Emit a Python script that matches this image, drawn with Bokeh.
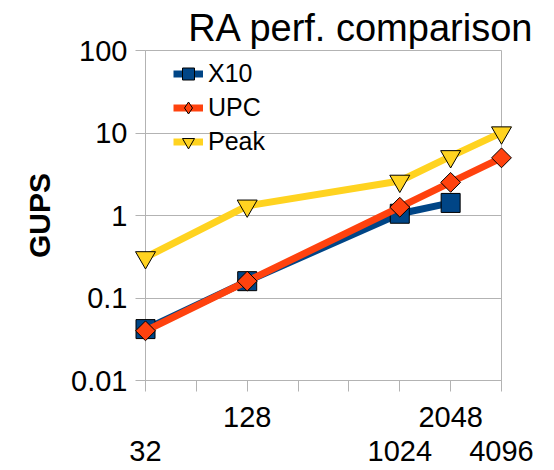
from bokeh.plotting import figure
from bokeh.models import FixedTicker, NumeralTickFormatter, Legend, LegendItem
from bokeh.embed import file_html
from bokeh.resources import INLINE
import numpy as np

# ---- data ----
sizes = [32, 128, 1024, 2048, 4096]
x10_sizes = [32, 128, 1024, 2048]
x10 = [0.042, 0.16, 1.05, 1.42]
upc = [0.040, 0.16, 1.26, 2.52, 5.0]
peak = [0.31, 1.31, 2.62, 5.2, 10.1]

x_ticks = [32, 64, 128, 256, 512, 1024, 2048, 4096]
x_tick_labels = ["\n32", "", "128", "", "", "\n1024", "2048", "\n4096"]
y_ticks = [0.01, 0.1, 1, 10, 100]

title_text = "RA perf. comparison"
y_label = "GUPS"

C_X10 = "#004586"
C_UPC = "#ff420e"
C_PEAK = "#ffd320"
GRID = "#b3b3b3"
FONT = "Liberation Sans"

p = figure(width=554, height=470, x_axis_type="log", y_axis_type="log",
           x_range=(32, 4096), y_range=(0.01, 100),
           output_backend="svg", toolbar_location=None,
           min_border_left=145, min_border_right=53,
           min_border_top=50, min_border_bottom=86)

p.title.text = title_text
p.title.text_font = FONT
p.title.text_font_size = "38px"
p.title.text_font_style = "normal"
p.title.align = "right"
p.title.offset = -33
p.title.standoff = 4
p.title.text_color = "black"

p.outline_line_color = GRID
p.outline_line_width = 1
p.xgrid.grid_line_color = None
p.ygrid.grid_line_color = GRID
p.ygrid.grid_line_width = 1

# x axis
xa = p.xaxis[0]
xa.ticker = FixedTicker(ticks=x_ticks)
xa.major_label_overrides = {t: l for t, l in zip(x_ticks, x_tick_labels)}
xa.axis_line_color = GRID
xa.major_tick_line_color = GRID
xa.major_tick_out = 11
xa.major_tick_in = 0
xa.minor_tick_line_color = None
xa.major_label_standoff = 9
xa.major_label_text_font = FONT
xa.major_label_text_font_size = "29px"
xa.major_label_text_line_height = 1.08
xa.major_label_text_color = "black"

# y axis
ya = p.yaxis[0]
ya.ticker = FixedTicker(ticks=y_ticks)
ya.formatter = NumeralTickFormatter(format="0.[00]")
ya.axis_line_color = GRID
ya.major_tick_line_color = GRID
ya.major_tick_out = 10
ya.major_tick_in = 0
ya.minor_tick_line_color = None
ya.major_label_standoff = 8
ya.major_label_text_font = FONT
ya.major_label_text_font_size = "29px"
ya.major_label_text_color = "black"
ya.axis_label = y_label
ya.axis_label_text_font = FONT
ya.axis_label_text_font_size = "30px"
ya.axis_label_text_font_style = "bold"
ya.axis_label_text_color = "black"
ya.axis_label_standoff = 12

# series (overlay level so edge markers are not clipped by the frame)
r1 = p.line(x10_sizes, x10, line_width=7, line_color=C_X10, level="overlay")
s1 = p.scatter(x10_sizes, x10, marker="square", size=19, fill_color=C_X10,
               line_color="black", line_width=1, level="overlay")
r2 = p.line(sizes, upc, line_width=7, line_color=C_UPC, level="overlay")
s2 = p.scatter(sizes, upc, marker="square", angle=np.pi / 4, size=14,
               fill_color=C_UPC, line_color="black", line_width=1, level="overlay")
r3 = p.line(sizes, peak, line_width=7, line_color=C_PEAK, level="overlay")
s3 = p.scatter(sizes, peak, marker="inverted_triangle", size=20, fill_color=C_PEAK,
               line_color="black", line_width=1, level="overlay")
# zero-size diamond marker: only used to draw a diamond in the legend
leg_upc = p.scatter(sizes, upc, marker="diamond", size=0, fill_color=C_UPC,
                    line_color="black", line_width=1)

legend = Legend(items=[LegendItem(label="X10", renderers=[r1, s1]),
                       LegendItem(label="UPC", renderers=[r2, leg_upc]),
                       LegendItem(label="Peak", renderers=[r3, s3])],
                location=(28, 223), border_line_color=None,
                background_fill_alpha=0, label_text_font=FONT,
                label_text_font_size="25px", label_text_color="black",
                glyph_width=30, glyph_height=31,
                label_height=31, spacing=3, padding=0, margin=0,
                label_standoff=5)
p.add_layout(legend)

open("out.html", "w").write(file_html(p, INLINE))
